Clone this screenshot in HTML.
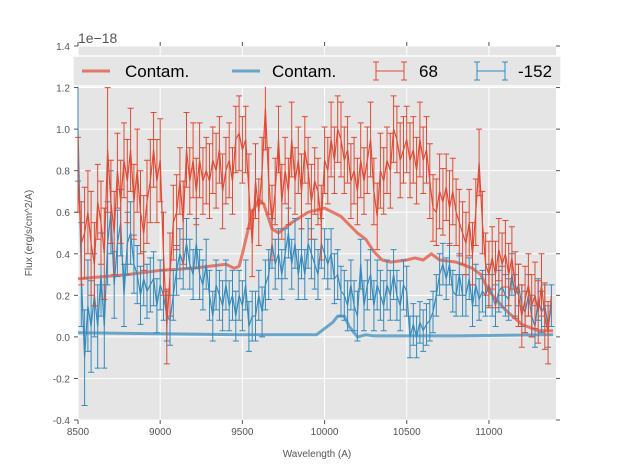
<!DOCTYPE html>
<html><head><meta charset="utf-8"><style>
body{margin:0;background:#fff;font-family:"Liberation Sans",sans-serif}
svg{display:block}
</style></head><body>
<svg id="chart" width="617" height="467" xmlns="http://www.w3.org/2000/svg" font-family="Liberation Sans, sans-serif">
<rect x="78" y="46" width="478" height="374" fill="#E5E5E5"/>
<g id="grid"></g>
<g id="marks"></g>
<g id="axes"></g>
<text x="78" y="43" font-size="14" fill="#555">1e−18</text>
<text x="317" y="457" font-size="10" fill="#555" text-anchor="middle">Wavelength (A)</text>
<text x="32" y="233" font-size="10" fill="#555" text-anchor="middle" transform="rotate(-90 32 233)">Flux (erg/s/cm^2/A)</text>
<g>
<rect x="73" y="56" width="488" height="30" fill="#E5E5E5" stroke="#fff" stroke-width="1.5"/>
<g><line x1="82" y1="71" x2="110" y2="71" stroke="#E24A33" stroke-opacity="0.7" stroke-width="3"/><text x="125" y="77" font-size="17" fill="#000">Contam.</text></g>
<g><line x1="232" y1="71" x2="260" y2="71" stroke="#348ABD" stroke-opacity="0.7" stroke-width="3"/><text x="272" y="77" font-size="17" fill="#000">Contam.</text></g>
<g><path d="M376,71H404M376,62V80M404,62V80M373,62H379M373,80H379M401,62H407M401,80H407" stroke="#E24A33" fill="none"/><text x="419" y="77" font-size="17" fill="#000">68</text></g>
<g><path d="M477,71H505M477,62V80M505,62V80M474,62H480M474,80H480M502,62H508M502,80H508" stroke="#348ABD" fill="none"/><text x="518" y="77" font-size="17" fill="#000">-152</text></g>
</g>
</svg>
<script>
const wl0 = 8500, wlStep = 20;
const redFlux = [0.78,0.45,0.5,0.6,0.45,0.35,0.65,0.55,0.4,0.9,0.65,0.5,0.8,0.65,0.85,0.75,0.9,0.65,0.8,0.6,0.5,0.65,0.75,0.9,0.75,0.85,0.4,0.05,0.3,0.55,0.6,0.75,0.55,0.9,0.75,0.85,0.7,0.85,0.75,0.8,0.75,0.85,0.8,0.9,0.7,0.8,0.85,0.75,0.95,0.98,0.9,0.95,0.7,0.45,0.75,0.6,0.8,1.1,0.75,0.55,0.7,0.95,0.65,0.8,0.7,0.95,0.75,0.85,0.7,0.9,0.8,0.65,0.75,0.7,0.55,0.85,0.8,0.95,0.85,1.0,0.95,0.85,0.9,0.75,0.8,0.7,0.85,0.75,0.85,0.95,0.7,0.58,0.8,0.75,0.85,0.8,1.0,0.95,0.85,0.9,0.95,0.85,0.9,0.8,0.95,0.85,0.9,0.75,0.62,0.6,0.7,0.65,0.72,0.62,0.7,0.6,0.55,0.5,0.45,0.55,0.4,0.6,0.84,0.55,0.35,0.3,0.38,0.3,0.42,0.35,0.4,0.3,0.38,0.25,0.2,0.1,0.18,0.25,0.15,0.2,0.12,0.25,0.1,0.02,0.2];
const redErr = [0.18,0.2,0.22,0.2,0.25,0.2,0.18,0.2,0.22,0.3,0.2,0.2,0.18,0.2,0.18,0.2,0.2,0.18,0.2,0.2,0.18,0.2,0.2,0.18,0.2,0.2,0.2,0.18,0.2,0.18,0.18,0.16,0.2,0.18,0.16,0.18,0.16,0.18,0.16,0.16,0.18,0.16,0.18,0.16,0.18,0.16,0.18,0.16,0.16,0.18,0.16,0.16,0.18,0.16,0.18,0.16,0.16,0.2,0.16,0.18,0.16,0.16,0.18,0.16,0.16,0.18,0.16,0.16,0.18,0.16,0.16,0.18,0.16,0.16,0.18,0.16,0.16,0.18,0.16,0.16,0.18,0.16,0.16,0.18,0.16,0.16,0.18,0.16,0.16,0.18,0.16,0.16,0.18,0.16,0.16,0.18,0.16,0.16,0.18,0.16,0.16,0.18,0.16,0.16,0.18,0.16,0.16,0.18,0.16,0.16,0.18,0.16,0.16,0.18,0.16,0.16,0.16,0.15,0.15,0.16,0.15,0.16,0.16,0.15,0.15,0.16,0.15,0.16,0.15,0.15,0.16,0.15,0.15,0.16,0.15,0.15,0.16,0.15,0.15,0.16,0.15,0.15,0.16,0.15];
const blueFlux = [1.0,0.3,-0.1,0.15,0.05,0.2,0.05,0.3,0.05,0.45,0.6,0.25,0.45,0.55,0.2,0.45,0.5,0.35,0.3,0.2,0.28,0.22,0.25,0.28,0.15,0.25,0.2,0.1,0.08,0.2,0.32,0.4,0.35,0.45,0.35,0.3,0.45,0.3,0.25,0.35,0.2,0.1,0.25,0.2,0.15,0.25,0.15,0.2,0.1,0.2,0.15,0.25,0.05,0.1,0.1,0.2,0.12,0.25,0.3,0.45,0.35,0.4,0.3,0.4,0.5,0.35,0.45,0.3,0.4,0.3,0.45,0.4,0.35,0.3,0.45,0.4,0.35,0.4,0.28,0.3,0.22,0.2,0.15,0.25,0.15,0.1,0.35,0.15,0.25,0.3,0.15,0.25,0.2,0.15,0.25,0.2,0.3,0.2,0.15,0.25,0.22,0.0,0.06,0.0,0.07,0.03,0.06,0.08,0.12,0.2,0.3,0.35,0.28,0.35,0.22,0.2,0.3,0.2,0.2,0.28,0.15,0.25,0.18,0.22,0.2,0.25,0.2,0.15,0.22,0.24,0.2,0.18,0.3,0.2,0.25,0.15,0.12,0.2,0.1,0.05,0.18,0.12,0.15,0.05,0.15];
const blueErr = [0.25,0.25,0.23,0.22,0.22,0.2,0.2,0.2,0.2,0.2,0.2,0.16,0.16,0.16,0.15,0.15,0.15,0.14,0.14,0.14,0.13,0.13,0.13,0.13,0.13,0.12,0.12,0.12,0.12,0.12,0.12,0.12,0.12,0.12,0.12,0.12,0.12,0.12,0.12,0.12,0.12,0.12,0.12,0.12,0.12,0.12,0.12,0.12,0.12,0.12,0.12,0.12,0.12,0.12,0.12,0.12,0.12,0.12,0.12,0.12,0.12,0.12,0.12,0.12,0.12,0.12,0.12,0.12,0.12,0.12,0.12,0.12,0.12,0.12,0.12,0.12,0.12,0.12,0.12,0.12,0.12,0.12,0.12,0.12,0.12,0.12,0.12,0.12,0.12,0.12,0.12,0.12,0.12,0.12,0.12,0.12,0.12,0.12,0.12,0.12,0.12,0.1,0.1,0.1,0.1,0.1,0.1,0.1,0.1,0.1,0.1,0.1,0.1,0.1,0.1,0.1,0.1,0.1,0.1,0.1,0.1,0.1,0.1,0.1,0.1,0.1,0.1,0.1,0.1,0.1,0.1,0.1,0.1,0.1,0.1,0.1,0.1,0.1,0.1,0.1,0.1,0.1,0.1,0.1,0.1];
const contamRedWl = [8500,8800,9000,9200,9400,9450,9480,9500,9560,9600,9630,9680,9720,9800,9900,10000,10100,10200,10250,10300,10350,10400,10500,10550,10600,10650,10700,10800,10900,10950,11000,11100,11200,11300,11390];
const contamRedFlux = [0.28,0.3,0.32,0.33,0.35,0.33,0.34,0.4,0.6,0.66,0.64,0.52,0.5,0.55,0.6,0.62,0.58,0.5,0.47,0.41,0.37,0.36,0.37,0.38,0.37,0.4,0.37,0.36,0.33,0.3,0.22,0.13,0.06,0.03,0.03];
const contamBlueWl = [8500,9000,9500,9950,10000,10050,10080,10120,10150,10200,10250,10300,10800,11390];
const contamBlueFlux = [0.02,0.015,0.01,0.01,0.04,0.07,0.1,0.1,0.05,0.0,0.01,0.005,0.005,0.01];
const xTicks = [8500,9000,9500,10000,10500,11000];
const yTicks = [-0.4,-0.2,0.0,0.2,0.4,0.6,0.8,1.0,1.2,1.4];

const X0=78,X1=556,Y0=46,Y1=420, XMIN=8500,XMAX=11408,YMIN=-0.4,YMAX=1.4;
const xs=w=>X0+(w-XMIN)/(XMAX-XMIN)*(X1-X0);
const ys=v=>Y1-(v-YMIN)/(YMAX-YMIN)*(Y1-Y0);
const NS="http://www.w3.org/2000/svg";
function mk(tag,attrs,parent){const e=document.createElementNS(NS,tag);for(const k in attrs)e.setAttribute(k,attrs[k]);parent.appendChild(e);return e;}
const grid=document.getElementById('grid'),marks=document.getElementById('marks'),axes=document.getElementById('axes');
xTicks.forEach(t=>{const x=xs(t);
 const g=mk('line',{x1:x,x2:x,y1:Y0,y2:Y1,stroke:'#fff','stroke-width':1},grid);
 
 
 mk('line',{x1:x,x2:x,y1:Y1,y2:Y1+4,stroke:'#555'},axes);
 mk('line',{x1:x,x2:x,y1:Y0,y2:Y0-4,stroke:'#555'},axes);
 const l=mk('text',{x:x,y:Y1+15,'font-size':10,fill:'#555','text-anchor':'middle'},axes);
 l.textContent=t;
 
 
});
yTicks.forEach(t=>{const y=ys(t);
 const g=mk('line',{x1:X0,x2:X1,y1:y,y2:y,stroke:'#fff','stroke-width':1},grid);
 
 
 mk('line',{x1:X0-4,x2:X0,y1:y,y2:y,stroke:'#555'},axes);
 mk('line',{x1:X1,x2:X1+4,y1:y,y2:y,stroke:'#555'},axes);
 const l=mk('text',{x:X0-8,y:y+4,'font-size':10,fill:'#555','text-anchor':'end'},axes);
 l.textContent=t.toFixed(1);
 
 
});
function series(fl,er,color,name){
 const g=mk('g',{},marks);
 
 
 let d='',e='';
 fl.forEach((v,i)=>{const x=xs(wl0+i*wlStep);
  if(x>X1+1)return;
  d+=(i?'L':'M')+x.toFixed(1)+','+ys(v).toFixed(1);
  const a=ys(v+er[i]),b=ys(v-er[i]);
  e+=`M${x.toFixed(1)},${a.toFixed(1)}V${b.toFixed(1)}M${(x-3).toFixed(1)},${a.toFixed(1)}h6M${(x-3).toFixed(1)},${b.toFixed(1)}h6`;
 });
 mk('path',{d:e,stroke:color,fill:'none','stroke-width':1},g);
 mk('path',{d:d,stroke:color,fill:'none','stroke-width':1.2},g);
}
function contam(w,f,color,name){
 let d='';w.forEach((x,i)=>{d+=(i?'L':'M')+xs(x).toFixed(1)+','+ys(f[i]).toFixed(1);});
 const p=mk('path',{d:d,stroke:color,'stroke-opacity':0.7,fill:'none','stroke-width':3,'stroke-linejoin':'round'},marks);
 
 
}
contam(contamRedWl,contamRedFlux,'#E24A33','contam-red-line');
contam(contamBlueWl,contamBlueFlux,'#348ABD','contam-blue-line');
series(blueFlux,blueErr,'#348ABD','series-minus152');
series(redFlux,redErr,'#E24A33','series-68');
</script>
</body></html>
